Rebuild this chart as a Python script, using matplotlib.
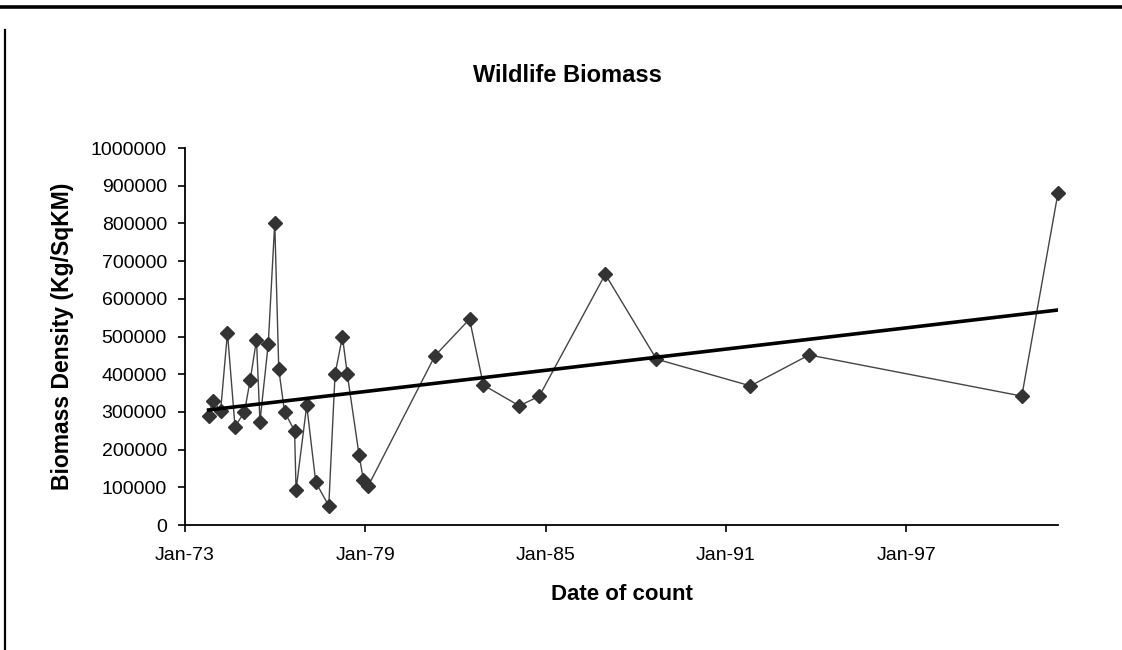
import numpy as np
import matplotlib
matplotlib.use('Agg')
import matplotlib.pyplot as plt
import matplotlib.dates as mdates
from matplotlib.lines import Line2D
from datetime import datetime


# counts (date, kg per sq km)
count_dates = ['1973-10-15', '1973-12-05', '1974-03-10', '1974-06-01', '1974-09-01',
               '1974-12-25', '1975-03-05', '1975-05-20', '1975-07-01', '1975-10-10',
               '1975-12-28', '1976-02-15', '1976-04-25', '1976-08-25', '1976-09-12',
               '1977-01-20', '1977-05-10', '1977-10-15', '1977-12-30', '1978-03-30',
               '1978-05-28', '1978-10-18', '1978-12-10', '1979-02-05', '1981-04-28',
               '1982-06-22', '1982-12-08', '1984-02-18', '1984-10-18', '1986-12-28',
               '1988-09-10', '1991-10-28', '1993-10-10', '2000-11-08', '2002-01-22']
biomass = [289000, 330000, 303000, 510000, 261000,
           300000, 385000, 491000, 274000, 480000,
           802000, 413000, 300000, 250000, 93000,
           317000, 113000, 51000, 400000, 500000,
           400000, 186000, 119000, 103000, 449000,
           546000, 371000, 316000, 342000, 665000,
           440000, 369000, 451000, 342000, 881000]

y_ticks = [0, 100000, 200000, 300000, 400000, 500000, 600000, 700000, 800000, 900000, 1000000]
x_ticks = ['1973-01-01', '1979-01-01', '1985-01-01', '1991-01-01', '1997-01-01']

plt.rcParams['font.family'] = ['Liberation Sans', 'DejaVu Sans']

dates = [datetime.strptime(d, '%Y-%m-%d') for d in count_dates]
xnum = mdates.date2num(dates)

fig = plt.figure(figsize=(11.22, 6.5), dpi=100)
ax = fig.add_axes([185 / 1122, 1 - 525 / 650, (1058 - 185) / 1122, (525 - 148) / 650])

# data series
ax.plot(xnum, biomass, color='#444444', lw=1.0, marker='D', markersize=7.5,
        markerfacecolor='#333333', markeredgecolor='#333333', zorder=3, clip_on=False)

# linear trendline over the data range
k, d = np.polyfit(xnum, biomass, 1)
xt = np.array([xnum[0], xnum[-1]])
ax.plot(xt, k * xt + d, color='black', lw=2.6, zorder=4)

ax.set_ylim(0, 1000000)
ax.set_yticks(y_ticks)
ax.set_yticklabels([str(v) for v in y_ticks])
ax.set_xlim(mdates.datestr2num('1973-01-01'), xnum[-1])
ax.set_xticks(mdates.datestr2num(x_ticks))
ax.xaxis.set_major_formatter(mdates.DateFormatter('%b-%y'))

for s in ['top', 'right']:
    ax.spines[s].set_visible(False)
for s in ['left', 'bottom']:
    ax.spines[s].set_linewidth(1.3)
    ax.spines[s].set_color('black')
ax.tick_params(axis='both', direction='out', length=5, width=1.2, labelsize=14, colors='black')
ax.tick_params(axis='x', pad=11)
ax.tick_params(axis='y', pad=8)

ax.set_xlabel('Date of count', fontsize=16, fontweight='bold', labelpad=14)
ax.set_ylabel('Biomass Density (Kg/SqKM)', fontsize=16.5, fontweight='bold', labelpad=12)

fig.text(0.506, 1 - 75 / 650, 'Wildlife Biomass', fontsize=17, fontweight='bold',
         ha='center', va='center')

# page border lines
fig.add_artist(Line2D([0, 1], [1 - 6.5 / 650, 1 - 6.5 / 650], color='black', lw=2.6,
                      transform=fig.transFigure))
fig.add_artist(Line2D([4.5 / 1122, 4.5 / 1122], [0, 1 - 30 / 650], color='black', lw=1.6,
                      transform=fig.transFigure))

fig.savefig('out.png', dpi=100)
